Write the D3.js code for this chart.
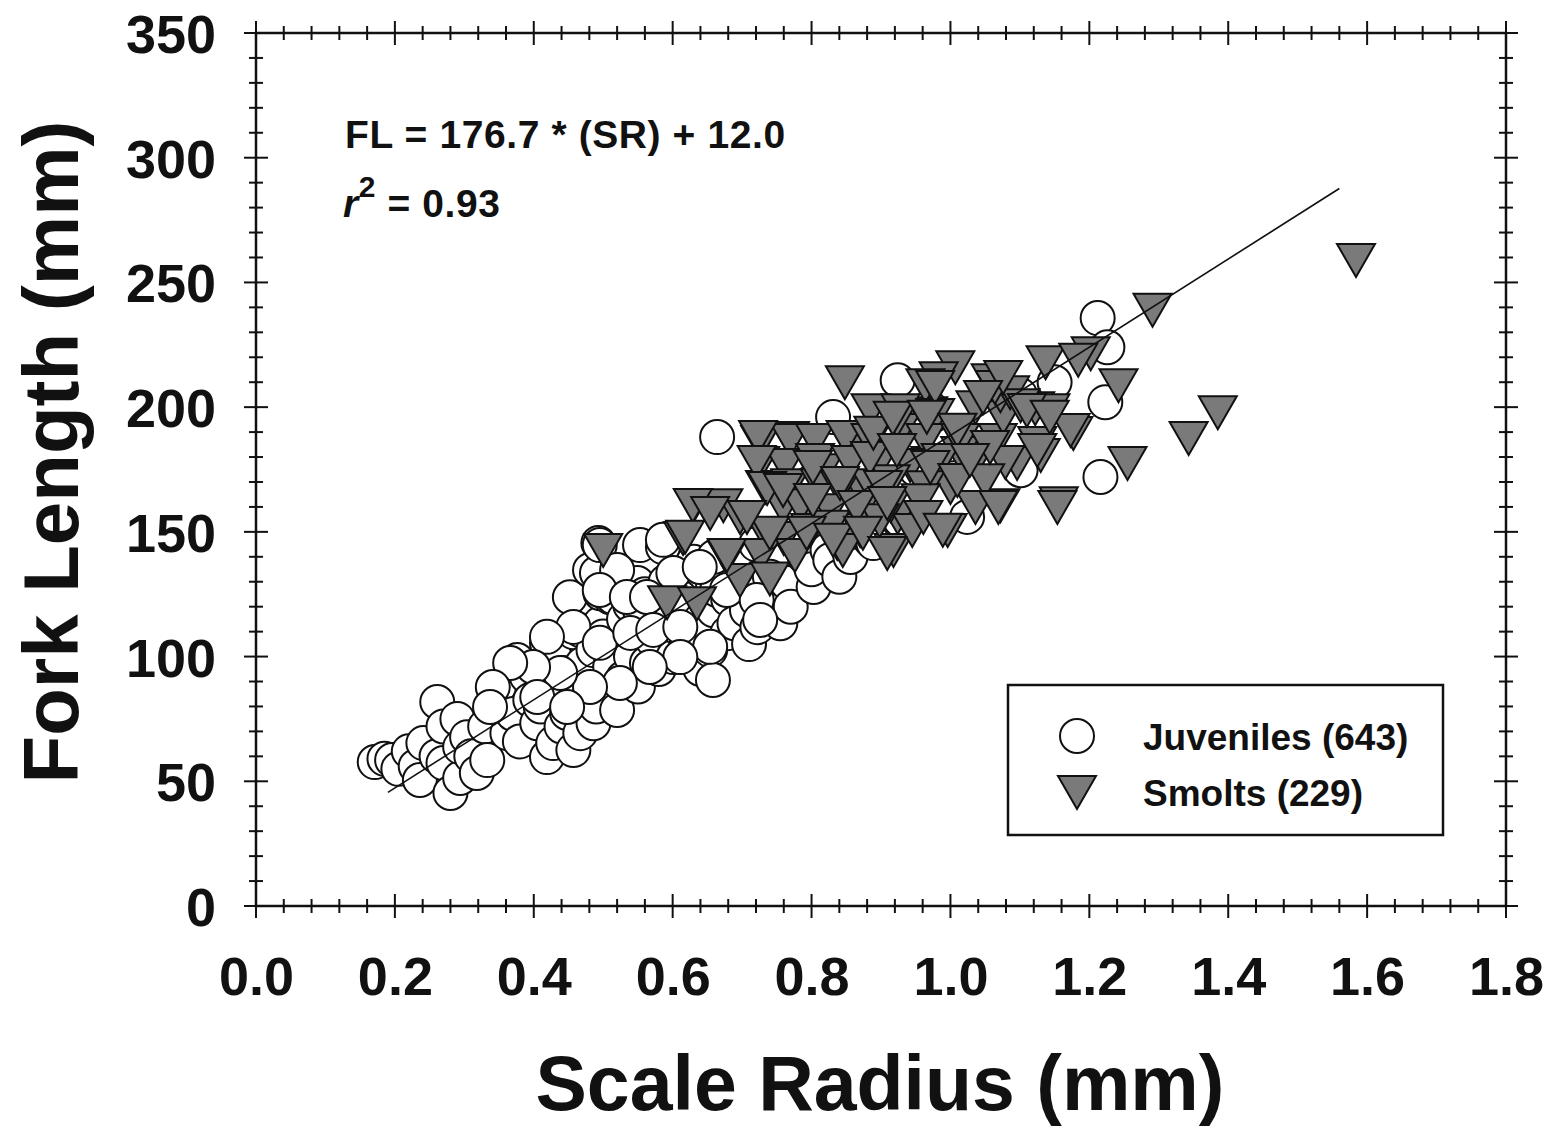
<!DOCTYPE html>
<html>
<head>
<meta charset="utf-8">
<script src="https://cdn.jsdelivr.net/npm/d3@7"></script>
<style>
  body { margin: 0; background: #fff; }
  svg text { font-family: 'Liberation Sans', Arial, sans-serif; font-weight: bold; fill: #111; }
</style>
</head>
<body>
<svg id="chart" width="1554" height="1130"></svg>
<script>
// Scale radius (mm) vs fork length (mm)
const juveniles = [
  [0.171, 57.7], [0.185, 59], [0.196, 58.5], [0.205, 55], [0.22, 62], [0.23, 56],
  [0.236, 50.5], [0.241, 65.3], [0.261, 81.8], [0.26, 60], [0.27, 57.3], [0.27, 72],
  [0.28, 45.3], [0.29, 75], [0.294, 51.3], [0.294, 63.7], [0.304, 67.7], [0.31, 60],
  [0.318, 53.3], [0.33, 72], [0.333, 58.5], [0.34, 80.6], [0.35, 88], [0.362, 69.3],
  [0.37, 77], [0.376, 98.6], [0.38, 66], [0.39, 92], [0.395, 82.6], [0.405, 73.3],
  [0.409, 93.8], [0.41, 80], [0.419, 105.4], [0.419, 59.7], [0.428, 65.3], [0.43, 100],
  [0.44, 72], [0.442, 93.4], [0.448, 77.4], [0.45, 88], [0.457, 109.8], [0.457, 62.5],
  [0.467, 69.3], [0.467, 110.6], [0.47, 97], [0.452, 123.8], [0.481, 85.4], [0.481, 134.7],
  [0.486, 102.6], [0.486, 73.3], [0.49, 80], [0.491, 133.5], [0.493, 145.5], [0.496, 113.4],
  [0.496, 125.4], [0.5, 108], [0.51, 96], [0.51, 123.8], [0.514, 123.8], [0.52, 78.6],
  [0.524, 127.9], [0.529, 91.4], [0.53, 115], [0.539, 120.6], [0.54, 100], [0.549, 129.5],
  [0.55, 88], [0.553, 118.6], [0.553, 144.7], [0.56, 125], [0.563, 97.4], [0.57, 107],
  [0.58, 95], [0.586, 143.9], [0.586, 113.4], [0.59, 130], [0.6, 118], [0.601, 99.8],
  [0.611, 110.6], [0.611, 123.8], [0.62, 105], [0.63, 138], [0.64, 114.6], [0.64, 95],
  [0.64, 135.9], [0.654, 102.6], [0.658, 90.6], [0.658, 127.9], [0.659, 118.6], [0.664, 126.7],
  [0.664, 188], [0.66, 140], [0.679, 109.4], [0.68, 123], [0.689, 113.4], [0.7, 130],
  [0.707, 118.6], [0.71, 105], [0.72, 145], [0.722, 111.8], [0.736, 122.6], [0.74, 132],
  [0.755, 113.4], [0.765, 129.5], [0.77, 120], [0.79, 140], [0.803, 127.9], [0.8, 135],
  [0.82, 150], [0.823, 142.7], [0.827, 138.7], [0.84, 132], [0.856, 139.9], [0.86, 150],
  [0.885, 146.7], [0.889, 145.5], [0.928, 154.7], [0.831, 196], [0.924, 210.8], [0.85, 160],
  [0.9, 165], [0.95, 175], [1.0, 185], [1.05, 195], [1.1, 205], [1.15, 210],
  [0.8, 170], [0.88, 185], [0.97, 200], [1.024, 156], [1.101, 174.7], [1.212, 235.7],
  [1.223, 202], [1.216, 172], [1.226, 224],
  [0.495, 144.7], [0.586, 146.8], [0.520, 134.7], [0.495, 126.7], [0.534, 123.9], [0.563, 123.9],
  [0.601, 133.5], [0.639, 135.9], [0.678, 126.7], [0.721, 122.7], [0.726, 114.7], [0.457, 111.9],
  [0.419, 107.9], [0.495, 105.5], [0.539, 109.5], [0.572, 110.7], [0.611, 111.9], [0.654, 103.9],
  [0.611, 99.8], [0.567, 95.8], [0.524, 89.4], [0.481, 87.8], [0.438, 93.4], [0.399, 95.8],
  [0.366, 97.4], [0.341, 87.8], [0.405, 83.8], [0.448, 79.8], [0.337, 79.8]
];

const smolts = [
  [1.584, 259], [1.291, 239], [1.385, 198], [1.343, 187.6], [1.255, 177.6], [1.156, 161.5],
  [1.072, 160.7], [1.242, 208.8], [1.177, 189.6], [1.137, 218], [1.202, 221.6], [1.184, 219],
  [1.007, 216], [0.983, 211.6], [0.968, 197.6], [1.058, 210.8], [1.122, 199.6], [1.125, 185.6],
  [1.068, 186.8], [1.014, 181.6], [0.971, 177.6], [0.899, 178.8], [0.918, 196], [1.0, 168],
  [0.996, 150.7], [0.924, 156], [0.918, 142.7], [0.870, 150.7], [1.096, 177.6], [1.076, 196],
  [0.848, 210], [0.726, 186], [0.769, 187.6], [0.726, 177.6], [0.733, 168], [0.630, 160.7],
  [0.673, 160.7], [0.615, 147.5], [0.500, 142.7], [0.678, 140], [0.697, 130.7], [0.592, 121.8],
  [0.635, 121.4], [0.738, 147.5], [0.788, 159.5], [0.837, 145.5], [0.875, 150.7], [0.817, 174.7],
  [0.870, 168], [0.856, 185.6], [0.759, 160], [0.697, 156],
  [0.964, 208.8], [1.072, 204.8], [1.086, 206],
  [0.885, 198.8], [0.928, 198.8], [0.978, 196.8], [1.036, 200], [1.101, 200.8], [1.144, 198.8],
  [0.769, 186.8], [0.805, 186.8], [0.849, 188], [0.885, 186.8], [0.928, 190.8], [0.964, 186.8],
  [1.014, 186.8], [1.173, 190.8],
  [0.762, 176.8], [0.805, 178.8], [0.856, 178], [0.942, 176.8], [0.986, 178.8], [1.036, 178.8],
  [1.079, 178], [1.13, 180.8],
  [0.769, 168.7], [0.812, 168.7], [0.841, 167.9], [0.885, 168.7], [0.914, 170.3], [0.964, 167.9],
  [1.05, 170.7],
  [0.784, 160.7], [0.827, 158.7], [0.870, 158.7], [0.914, 160.7], [0.957, 162.7], [1.036, 160],
  [0.798, 150.7], [0.827, 152], [0.898, 154.7], [0.945, 150.7], [0.76, 147.5],
  [0.727, 140.7], [0.776, 140.7], [0.845, 142.7], [0.74, 131.3],
  [0.723, 188.0], [0.721, 178.0], [0.736, 167.6], [0.629, 160.8], [0.759, 166.8], [0.802, 176.0],
  [0.802, 162.8], [0.841, 169.6], [0.884, 179.6], [0.865, 160.0], [0.903, 168.0], [0.923, 194.9],
  [0.889, 189.7], [0.740, 149.6], [0.793, 149.6], [0.831, 146.8], [0.874, 149.6], [0.909, 141.5],
  [0.707, 156.0], [0.654, 157.6], [0.618, 148.0], [0.678, 140.7],
  [0.978, 208.1], [1.064, 208.1], [1.076, 212.1], [1.110, 198.9], [1.143, 196.1], [0.917, 195.7],
  [0.966, 196.1], [1.010, 190.9], [1.057, 184.0], [1.125, 182.8], [0.971, 176.0], [1.010, 170.8],
  [1.028, 178.8], [0.923, 182.8], [0.909, 161.6], [0.961, 156.0], [1.069, 160.0], [1.154, 160.0],
  [0.989, 150.8], [1.047, 204.1]
];

// Regression line FL = 176.7 * SR + 12.0
const fitSlope = 176.7;
const fitIntercept = 12.0;
const fitRange = [0.19, 1.56];

const xTicks = [0, 0.2, 0.4, 0.6, 0.8, 1.0, 1.2, 1.4, 1.6, 1.8];
const yTicks = [0, 50, 100, 150, 200, 250, 300, 350];
const legendLabels = ['Juveniles (643)', 'Smolts (229)'];

const svg = d3.select('#chart');

const plot = { left: 256, right: 1506, top: 33, bottom: 906 };

const x = d3.scaleLinear().domain([0, 1.8]).range([plot.left, plot.right]);
const y = d3.scaleLinear().domain([0, 350]).range([plot.bottom, plot.top]);

const triangle = 'M-19,-16 L19,-16 L0,17 Z';

// Data marks
svg.append('g')
  .selectAll('circle')
  .data(juveniles)
  .join('circle')
  .attr('cx', d => x(d[0]))
  .attr('cy', d => y(d[1]))
  .attr('r', 17)
  .attr('fill', '#fff')
  .attr('stroke', '#111')
  .attr('stroke-width', 2);

svg.append('g')
  .selectAll('path')
  .data(smolts)
  .join('path')
  .attr('d', triangle)
  .attr('transform', d => `translate(${x(d[0])},${y(d[1])})`)
  .attr('fill', '#7a7a7a')
  .attr('stroke', '#111')
  .attr('stroke-width', 2);

// Fit line
svg.append('line')
  .attr('x1', x(fitRange[0]))
  .attr('y1', y(fitSlope * fitRange[0] + fitIntercept))
  .attr('x2', x(fitRange[1]))
  .attr('y2', y(fitSlope * fitRange[1] + fitIntercept))
  .attr('stroke', '#111')
  .attr('stroke-width', 1.6);

// Frame
svg.append('rect')
  .attr('x', plot.left)
  .attr('y', plot.top)
  .attr('width', plot.right - plot.left)
  .attr('height', plot.bottom - plot.top)
  .attr('fill', 'none')
  .attr('stroke', '#111')
  .attr('stroke-width', 2.5);

// Ticks crossing every side of the frame
const ticks = svg.append('g').attr('stroke', '#111').attr('stroke-width', 2);
const xMinor = d3.range(0, 1.8001, 0.04);
const yMinor = d3.range(0, 350.01, 10);

xMinor.forEach((v, i) => {
  const len = i % 5 === 0 ? 12 : 7;
  [plot.bottom, plot.top].forEach(py => {
    ticks.append('line')
      .attr('x1', x(v)).attr('x2', x(v))
      .attr('y1', py - len).attr('y2', py + len);
  });
});

yMinor.forEach((v, i) => {
  const len = i % 5 === 0 ? 12 : 7;
  [plot.left, plot.right].forEach(px => {
    ticks.append('line')
      .attr('y1', y(v)).attr('y2', y(v))
      .attr('x1', px - len).attr('x2', px + len);
  });
});

// Tick labels through d3 axes
const xAxis = svg.append('g')
  .attr('transform', `translate(0, ${plot.bottom})`)
  .call(d3.axisBottom(x).tickValues(xTicks).tickFormat(d3.format('.1f')).tickSize(0));
xAxis.select('.domain').remove();
xAxis.selectAll('text')
  .attr('dy', null)
  .attr('y', 89)
  .style('font-size', '54px')
  .style('font-family', "'Liberation Sans', Arial, sans-serif")
  .style('font-weight', 'bold');

const yAxis = svg.append('g')
  .attr('transform', `translate(${plot.left}, 0)`)
  .call(d3.axisLeft(y).tickValues(yTicks).tickSize(0).tickPadding(40));
yAxis.select('.domain').remove();
yAxis.selectAll('text')
  .attr('dy', '0.36em')
  .style('font-size', '54px')
  .style('font-family', "'Liberation Sans', Arial, sans-serif")
  .style('font-weight', 'bold');

// Axis titles
svg.append('text')
  .attr('x', 880)
  .attr('y', 1110)
  .attr('text-anchor', 'middle')
  .style('font-size', '77px')
  .text('Scale Radius (mm)');

svg.append('text')
  .attr('transform', 'translate(78, 452) rotate(-90)')
  .attr('text-anchor', 'middle')
  .style('font-size', '78px')
  .text('Fork Length (mm)');

// Equation
svg.append('text')
  .attr('x', 345)
  .attr('y', 148)
  .style('font-size', '39px')
  .style('letter-spacing', '0.6px')
  .text(`FL = ${fitSlope.toFixed(1)} * (SR) + ${fitIntercept.toFixed(1)}`);

const r2 = svg.append('text')
  .attr('x', 343)
  .attr('y', 217)
  .style('font-size', '39px')
  .style('letter-spacing', '0.6px');
r2.append('tspan').style('font-style', 'italic').text('r');
r2.append('tspan').attr('dy', -20).style('font-size', '30px').text('2');
r2.append('tspan').attr('dy', 20).text(' = 0.93');

// Legend
const legend = svg.append('g');
legend.append('rect')
  .attr('x', 1008)
  .attr('y', 685)
  .attr('width', 435)
  .attr('height', 150)
  .attr('fill', '#fff')
  .attr('stroke', '#111')
  .attr('stroke-width', 2.5);

legend.append('circle')
  .attr('cx', 1077)
  .attr('cy', 736)
  .attr('r', 17)
  .attr('fill', '#fff')
  .attr('stroke', '#111')
  .attr('stroke-width', 2);

legend.append('path')
  .attr('d', triangle)
  .attr('transform', 'translate(1077, 792)')
  .attr('fill', '#7a7a7a')
  .attr('stroke', '#111')
  .attr('stroke-width', 2);

legendLabels.forEach((label, i) => {
  legend.append('text')
    .attr('x', 1143)
    .attr('y', 750 + i * 56)
    .style('font-size', '37px')
    .text(label);
});
</script>
</body>
</html>
